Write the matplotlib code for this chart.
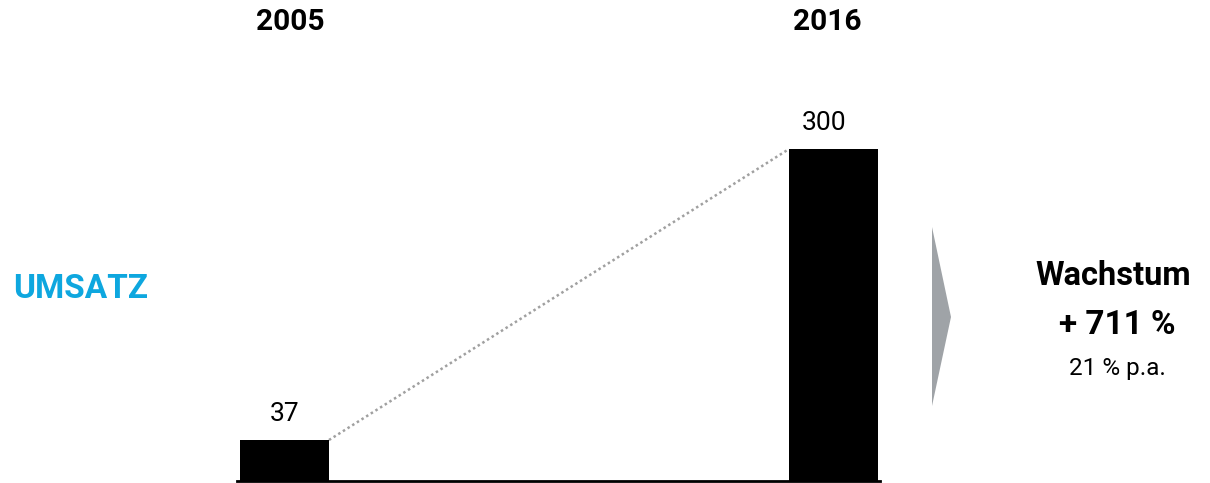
"""Umsatz 2005 vs 2016 with growth callout."""
import matplotlib
matplotlib.use("Agg")
import matplotlib.pyplot as plt
from matplotlib.patches import Polygon

plt.rcParams["font.family"] = ["Roboto", "DejaVu Sans"]

years = ["2005", "2016"]
values = [37, 300]
label = "UMSATZ"
growth_title = "Wachstum"
growth_total = "+ 711 %"
growth_pa = "21 % p.a."

W, H = 1210, 483
fig = plt.figure(figsize=(W / 100, H / 100), dpi=100)

# axes placed in pixel terms: baseline at y=481, x from 237 to 880
ax = fig.add_axes([237 / W, 2 / H, 643 / W, 332 / H])
xs = [0, 1]
bw = 0.162
ax.bar(xs, values, width=bw, color="black")
ax.set_xlim(-0.0865, 1.0847)
ax.set_ylim(0, max(values))
for s in ["top", "right", "left"]:
    ax.spines[s].set_visible(False)
ax.spines["bottom"].set_linewidth(2)
ax.spines["bottom"].set_color("black")
ax.set_xticks([])
ax.set_yticks([])
ax.patch.set_alpha(0)

# dotted connector from top-right of first bar to top-left of second
ax.plot([xs[0] + bw / 2, xs[1] - bw / 2], values, linestyle=(0, (1, 1.2)),
        color="#a0a0a0", linewidth=1.8, clip_on=False)

# value labels (the 300 sits slightly left of its bar in the original)
offsets = [0, -9]
for x, v, dx in zip(xs, values, offsets):
    ax.annotate(str(v), (x, v), xytext=(dx * 0.72, 10), textcoords="offset points",
                ha="center", va="bottom", fontsize=19, clip_on=False)

def fx(px):
    return px / W

def fy(py):
    return 1 - py / H

fig.text(fx(290), fy(22), years[0], ha="center", va="center",
         fontsize=21.5, fontweight="bold")
fig.text(fx(827), fy(22), years[1], ha="center", va="center",
         fontsize=21.5, fontweight="bold")
fig.text(fx(80.5), fy(289), label, ha="center", va="center",
         fontsize=24, fontweight="bold", color="#0ea7df")

# grey arrow
arrow = Polygon([(fx(932), fy(227)), (fx(951), fy(317)), (fx(932), fy(406))],
                closed=True, transform=fig.transFigure, color="#9fa3a7", lw=0)
fig.patches.append(arrow)

fig.text(fx(1113), fy(285), growth_title, ha="center", va="baseline",
         fontsize=23.5, fontweight="bold")
fig.text(fx(1117), fy(334), growth_total, ha="center", va="baseline",
         fontsize=24, fontweight="bold")
fig.text(fx(1117), fy(375), growth_pa, ha="center", va="baseline",
         fontsize=17.5)

fig.savefig("out.png", dpi=100)
